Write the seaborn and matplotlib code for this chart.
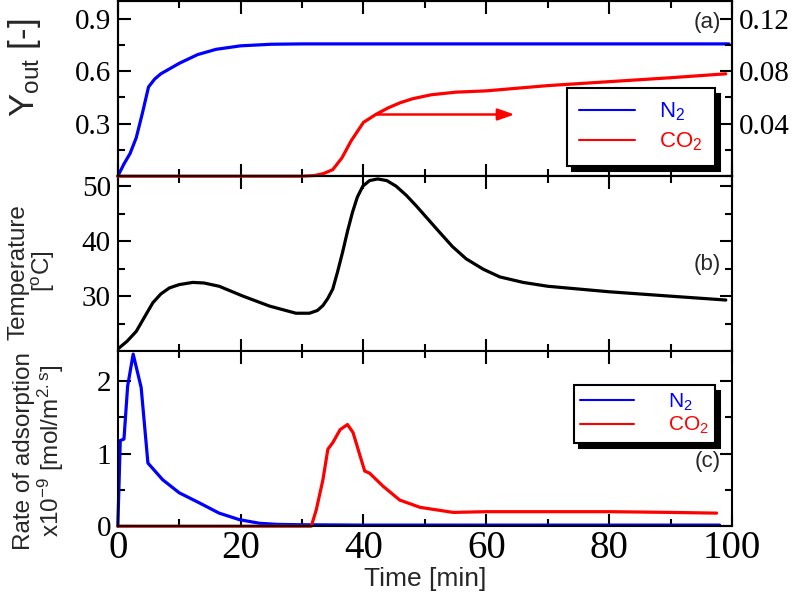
import numpy as np
import pandas as pd
import matplotlib
matplotlib.use('agg')
import matplotlib.pyplot as plt
import seaborn as sns
from matplotlib.ticker import MultipleLocator

# (a) outlet mole fraction, N2 on left axis, CO2 on right axis
yn2_time = [0, 1, 2, 3, 4, 5, 6, 7, 8, 10, 13, 16, 20, 25, 30, 40, 60, 80, 99.5]
yn2_val = [0.0, 0.07, 0.13, 0.22, 0.36, 0.51, 0.555, 0.585, 0.605, 0.645, 0.695, 0.725,
           0.745, 0.754, 0.756, 0.756, 0.756, 0.756, 0.756]
yco2_time = [0, 30, 32, 33.5, 35, 36.5, 38, 40, 42, 44, 46, 48, 51, 55, 60, 70, 80, 90, 99]
yco2_val = [0, 0, 0.0005, 0.002, 0.005, 0.014, 0.027, 0.041, 0.047, 0.052, 0.056, 0.059,
            0.062, 0.064, 0.065, 0.069, 0.072, 0.075, 0.078]

# (b) temperature
temp_time = [0, 1.5, 3, 4.5, 5.7, 7, 8.4, 10, 12.2, 14, 16.5, 20.4, 24.7, 29, 31.2, 32.5,
             33.4, 34.2, 35, 35.8, 36.6, 37.4, 38.2, 39, 39.9, 41, 42.3, 43.8, 45.3, 47,
             48.6, 50.5, 52.4, 54.5, 56.7, 59.5, 62.2, 66, 70, 75, 80, 90, 99]
temp_val = [20.4, 21.8, 23.6, 26.5, 28.8, 30.4, 31.5, 32.1, 32.5, 32.4, 31.8, 30.0, 28.2,
            26.9, 26.9, 27.4, 28.3, 29.6, 31.3, 34.5, 38.0, 41.8, 45.2, 48.0, 50.0, 51.0,
            51.3, 51.0, 50.0, 48.3, 46.4, 44.0, 41.6, 39.0, 36.8, 34.9, 33.5, 32.5, 31.8,
            31.3, 30.8, 30.0, 29.3]

# (c) rate of adsorption (x1e-9 mol/m2.s)
rn2_time = [0, 0.4, 0.7, 1.0, 1.6, 2.5, 3.8, 4.9, 7.3, 10, 13.3, 16.5, 19.8, 23.1, 26, 30,
            40, 60, 80, 98]
rn2_val = [0, 1.18, 1.19, 1.2, 1.93, 2.37, 1.91, 0.87, 0.64, 0.46, 0.32, 0.18, 0.09, 0.04,
           0.025, 0.02, 0.015, 0.015, 0.015, 0.015]
rco2_time = [0, 31.5, 32.3, 33.4, 34.2, 35, 36.2, 37.4, 38.3, 39.3, 40.2, 41, 43.2, 45.9,
             49.2, 54.6, 60, 70, 80, 90, 97.5]
rco2_val = [0, 0, 0.22, 0.64, 1.06, 1.15, 1.33, 1.40, 1.29, 1.01, 0.76, 0.73, 0.55, 0.36,
            0.26, 0.19, 0.20, 0.20, 0.20, 0.19, 0.18]

sns.set_style("ticks")
plt.rcParams['font.family'] = ['Liberation Sans', 'DejaVu Sans']
plt.rcParams['mathtext.default'] = 'regular'
plt.rcParams['axes.linewidth'] = 1.5

BLUE = '#0000ff'
RED = '#ff0000'
LW = 2.3

fig = plt.figure(figsize=(8.07, 6.0), dpi=100)
gs = fig.add_gridspec(3, 1, left=0.146, right=0.907, top=0.998, bottom=0.123, hspace=0)
ax_a = fig.add_subplot(gs[0])
ax_b = fig.add_subplot(gs[1], sharex=ax_a)
ax_c = fig.add_subplot(gs[2], sharex=ax_a)
ax_a2 = ax_a.twinx()


def style_ticks(ax, left=True, right=True):
    ax.tick_params(which='both', direction='in', top=True, bottom=True,
                   left=left, right=right, labelfontfamily='Liberation Serif',
                   colors='black')
    ax.tick_params(axis='y', labelsize=21)
    ax.tick_params(axis='x', labelsize=28)
    ax.tick_params(which='major', length=9, width=1.5, pad=5)
    ax.tick_params(which='minor', length=5, width=1.5)
    for s in ax.spines.values():
        s.set_visible(True)
        s.set_color('black')
        s.set_linewidth(1.5)


def legend_box(ax, handles, labels, anchor, **kw):
    leg = ax.legend(handles, labels, loc='upper right', bbox_to_anchor=anchor,
                    labelcolor='linecolor', fancybox=False, framealpha=1,
                    edgecolor='black', borderaxespad=0,
                    shadow={'ox': 4, 'oy': -4, 'color': 'black', 'alpha': 1}, **kw)
    leg.get_frame().set_linewidth(1.5)
    for ln in leg.get_lines():
        ln.set_linewidth(1.5)
    return leg


# panel (a)
sns.lineplot(x=yn2_time, y=yn2_val, ax=ax_a, color=BLUE, linewidth=LW, label='N$_2$',
             legend=False, clip_on=False)
sns.lineplot(x=yco2_time, y=yco2_val, ax=ax_a2, color=RED, linewidth=LW, label='CO$_2$',
             legend=False, clip_on=False)
ax_a.set_ylim(0, 1.0)
ax_a2.set_ylim(0, 0.1333)
ax_a.yaxis.set_minor_locator(MultipleLocator(0.15))
ax_a2.yaxis.set_minor_locator(MultipleLocator(0.02))
style_ticks(ax_a, left=True, right=False)
style_ticks(ax_a2, left=False, right=True)
ax_a2.tick_params(which='both', top=False, bottom=False)
ax_a.set_yticks([0.3, 0.6, 0.9])
ax_a2.set_yticks([0.04, 0.08, 0.12])
ax_a.set_ylabel('Y$_{out}$ [-]', fontsize=25)
ax_a.yaxis.set_label_coords(-0.122, 0.62)
ax_a.text(0.96, 0.88, '(a)', transform=ax_a.transAxes, fontsize=16, ha='center', va='center')
ax_a2.annotate('', xy=(64.6, 0.047), xytext=(42.1, 0.047),
               arrowprops=dict(arrowstyle='-|>,head_length=1.0,head_width=0.35',
                               color=RED, lw=1.8, shrinkA=0, shrinkB=0))
h1, l1 = ax_a.get_legend_handles_labels()
h2, l2 = ax_a2.get_legend_handles_labels()
legend_box(ax_a2, h1 + h2, l1 + l2, (0.972, 0.503), fontsize=16, handlelength=2.5,
           handletextpad=1.1, labelspacing=0.35, borderpad=0.55)

# panel (b)
sns.lineplot(x=temp_time, y=temp_val, ax=ax_b, color='black', linewidth=LW)
ax_b.set_ylim(20, 51.8)
ax_b.yaxis.set_minor_locator(MultipleLocator(5))
style_ticks(ax_b)
ax_b.set_yticks([30, 40, 50])
ax_b.set_ylabel('Temperature\n[$^o$C]', fontsize=17.5, linespacing=1.0)
ax_b.yaxis.set_label_coords(-0.099, 0.455)
ax_b.text(0.96, 0.494, '(b)', transform=ax_b.transAxes, fontsize=16, ha='center', va='center')

# panel (c)
sns.lineplot(x=rn2_time, y=rn2_val, ax=ax_c, color=BLUE, linewidth=LW, label='N$_2$',
             legend=False, clip_on=False)
sns.lineplot(x=rco2_time, y=rco2_val, ax=ax_c, color=RED, linewidth=LW, label='CO$_2$',
             legend=False, clip_on=False)
ax_c.set_ylim(0, 2.41)
ax_c.yaxis.set_minor_locator(MultipleLocator(0.5))
style_ticks(ax_c)
ax_c.set_yticks([0, 1, 2])
ax_c.set_ylabel('Rate of adsorption\nx10$^{-9}$ [mol/m$^{2.s}$]', fontsize=17.5, linespacing=1.0)
ax_c.yaxis.set_label_coords(-0.085, 0.43)
ax_c.text(0.96, 0.37, '(c)', transform=ax_c.transAxes, fontsize=16, ha='center', va='center')
hc, lc = ax_c.get_legend_handles_labels()
legend_box(ax_c, hc, lc, (0.972, 0.805), fontsize=15, handlelength=2.6,
           handletextpad=1.6, labelspacing=0.1, borderpad=0.3)

# shared x axis
ax_c.set_xlim(0, 100)
ax_c.xaxis.set_major_locator(MultipleLocator(20))
ax_c.xaxis.set_minor_locator(MultipleLocator(10))
ax_c.tick_params(axis='x', pad=3)
ax_c.set_xlabel('Time [min]', fontsize=19, labelpad=0)
plt.setp(ax_a.get_xticklabels(), visible=False)
plt.setp(ax_b.get_xticklabels(), visible=False)

fig.savefig('out.png', dpi=100)
